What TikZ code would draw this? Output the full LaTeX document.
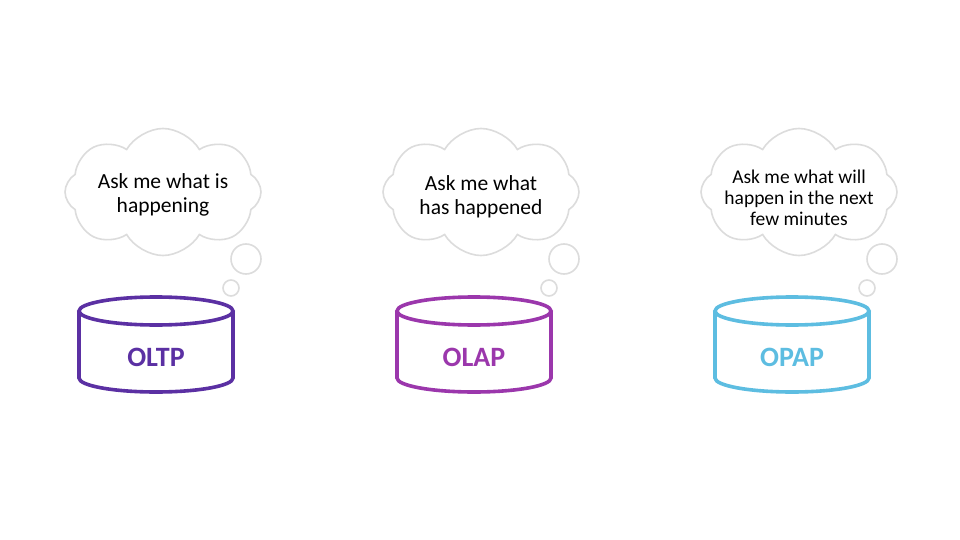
\documentclass[tikz,border=0pt]{standalone}
\usepackage{fontspec}
\setmainfont{Carlito}
\usetikzlibrary{shapes.symbols}
\definecolor{cOLTP}{HTML}{5B30A3}
\definecolor{cOLAP}{HTML}{9B37AC}
\definecolor{cOPAP}{HTML}{5DBDE1}
\definecolor{cloudgray}{HTML}{DCDCDC}
\tikzset{
  thought/.style={shape=cloud, cloud puffs=8, cloud puff arc=120, aspect=1.55,
    draw=cloudgray, fill=white, line width=1.6pt, minimum width=196pt, minimum height=127pt,
    inner sep=0pt},
  thtext/.style={align=center, text=black, font=\fontsize{21.5}{24}\selectfont},
  thsmall/.style={align=center, text=black, font=\fontsize{19.5}{21}\selectfont},
  bubble/.style={circle, draw=cloudgray, fill=white, line width=1.6pt, inner sep=0pt},
  dblabel/.style={font=\bfseries\fontsize{28}{30}\selectfont},
  dbline/.style={line width=3.6pt}
}
\newcommand{\dbcyl}[2]{% center x, color
  \draw[dbline, draw=#2] (#1,311) ellipse[x radius=77, y radius=14];
  \draw[dbline, draw=#2] (#1-77,311) -- (#1-77,378) arc[start angle=180, end angle=0, x radius=77, y radius=14] -- (#1+77,311);
}
\begin{document}
\begin{tikzpicture}[x=1pt,y=-1pt]
\useasboundingbox[fill=white] (0,0) rectangle (960,540);
% clouds
\node[thought] (c1) at (163,192) {};
\node[thought] (c2) at (481,192) {};
\node[thought] (c3) at (799,192) {};
\node[thtext] (t1) at (163,195) {Ask me what is\\happening};
\node[thtext] (t2) at (481,197) {Ask me what\\has happened};
\node[thsmall] (t3) at (799,198) {Ask me what will\\happen in the next\\few minutes};
% bubbles
\node[bubble, minimum size=30pt] (b1a) at (246,259) {};
\node[bubble, minimum size=16pt] (b1b) at (231,288) {};
\node[bubble, minimum size=30pt] (b2a) at (564,259) {};
\node[bubble, minimum size=16pt] (b2b) at (549,288) {};
\node[bubble, minimum size=30pt] (b3a) at (882,259) {};
\node[bubble, minimum size=16pt] (b3b) at (867,288) {};
% cylinders
\dbcyl{156}{cOLTP}
\dbcyl{474}{cOLAP}
\dbcyl{792}{cOPAP}
\node[dblabel, text=cOLTP] (l1) at (156,357) {OLTP};
\node[dblabel, text=cOLAP] (l2) at (474,357) {OLAP};
\node[dblabel, text=cOPAP] (l3) at (792,357) {OPAP};
\end{tikzpicture}
\end{document}
